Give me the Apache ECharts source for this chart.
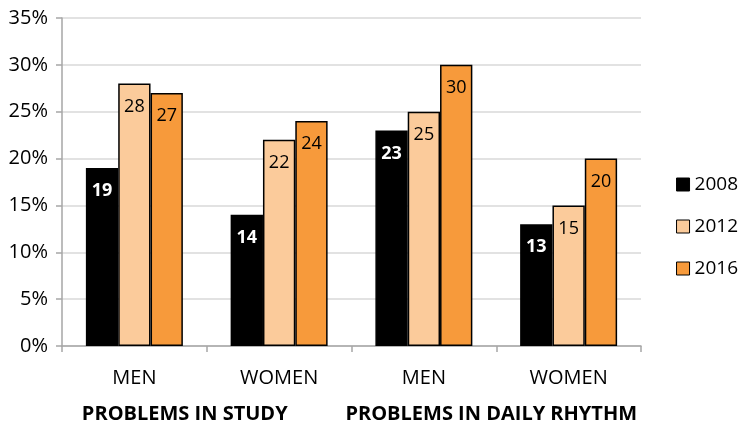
<!DOCTYPE html>
<html>
<head>
<meta charset="utf-8">
<script src="https://cdn.jsdelivr.net/npm/echarts@6/dist/echarts.min.js"></script>
<style>html,body{margin:0;padding:0;background:#fff}#c{width:748px;height:424px}</style>
</head>
<body>
<div id="c"></div>
<script>
var categories = ['MEN', 'WOMEN', 'MEN', 'WOMEN'];
var groups = ['PROBLEMS IN STUDY', 'PROBLEMS IN DAILY RHYTHM'];
var seriesNames = ['2008', '2012', '2016'];
var values2008 = [19, 14, 23, 13];
var values2012 = [28, 22, 25, 15];
var values2016 = [27, 24, 30, 20];
var yTicks = [0, 5, 10, 15, 20, 25, 30, 35];

var FONT = 'Open Sans';
var colors = ['#000000', '#FBCB9B', '#F79A3B'];
var labelColors = ['#ffffff', '#000000', '#000000'];
var labelWeights = ['bold', 'normal', 'normal'];
var allValues = [values2008, values2012, values2016];

var chart = echarts.init(document.getElementById('c'), null, {renderer: 'canvas'});
var series = seriesNames.map(function (name, i) {
  return {
    name: name,
    type: 'bar',
    data: allValues[i],
    barGap: '0%',
    barCategoryGap: '33%',
    itemStyle: {color: colors[i], borderColor: '#000', borderWidth: 1.5},
    label: {
      show: true,
      position: 'insideTop',
      distance: 14,
      color: labelColors[i],
      fontWeight: labelWeights[i],
      fontFamily: FONT,
      fontSize: 18
    },
    emphasis: {disabled: true}
  };
});

chart.setOption({
  animation: false,
  color: colors,
  grid: {left: 62, right: 107, top: 18, bottom: 76},
  legend: {
    orient: 'vertical',
    right: 5,
    top: 170,
    itemWidth: 13,
    itemHeight: 13,
    itemGap: 23,
    icon: 'rect',
    itemStyle: {borderColor: '#000', borderWidth: 1},
    textStyle: {fontFamily: FONT, fontSize: 19, color: '#000'},
    data: seriesNames
  },
  xAxis: [{
    type: 'category',
    data: categories,
    axisLine: {lineStyle: {color: '#A6A6A6', width: 1.5}},
    axisTick: {show: true, length: 6, lineStyle: {color: '#A6A6A6', width: 1.5}},
    axisLabel: {fontFamily: FONT, fontSize: 20, color: '#000', margin: 22, interval: 0}
  }, {
    type: 'category',
    data: [
      {value: groups[0], textStyle: {padding: [0, 44, 0, 0]}},
      {value: groups[1], textStyle: {padding: [0, 10, 0, 0]}}
    ],
    position: 'bottom',
    offset: 47,
    axisLine: {show: false},
    axisTick: {show: false},
    axisLabel: {fontFamily: FONT, fontSize: 20, fontWeight: 'bold', color: '#000', margin: 11, interval: 0}
  }],
  yAxis: {
    type: 'value',
    min: yTicks[0],
    max: yTicks[yTicks.length - 1],
    interval: 5,
    axisLine: {show: true, lineStyle: {color: '#A6A6A6', width: 1.5}},
    axisTick: {show: true, length: 6, lineStyle: {color: '#A6A6A6', width: 1.5}},
    splitLine: {lineStyle: {color: '#D9D9D9', width: 1.5}},
    axisLabel: {fontFamily: FONT, fontSize: 20, color: '#000', margin: 14, formatter: '{value}%'}
  },
  series: series
});
</script>
</body>
</html>
